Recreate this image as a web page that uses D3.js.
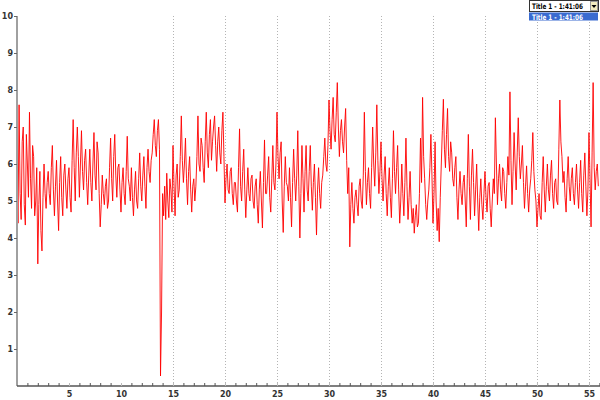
<!DOCTYPE html>
<html><head><meta charset="utf-8">
<script src="https://cdn.jsdelivr.net/npm/d3@7"></script>
<style>
html,body{margin:0;padding:0;background:#fff;}
svg{display:block;}
text{font-family:"DejaVu Sans",Verdana,sans-serif;}
</style></head>
<body>
<svg id="chart" width="600" height="400"></svg>
<script>
const sampleStep = 0.1; // time units between samples
const values = [
5.5,4.4,7.6,5.2,4.5,6.6,7.0,4.9,4.35,6.8,
6.0,5.1,7.4,5.6,4.8,6.5,6.2,4.6,5.0,5.9,
3.3,4.9,5.8,4.2,3.65,5.1,6.0,5.2,4.8,5.5,
5.8,5.2,4.9,5.9,6.5,5.3,4.6,5.4,6.1,5.0,
4.2,5.5,6.2,5.1,4.6,5.7,6.0,5.3,4.8,5.6,
5.9,5.1,4.7,6.1,7.2,5.9,5.0,6.3,7.0,6.2,
5.1,6.0,6.9,5.8,5.3,6.1,6.4,5.5,4.9,5.7,
6.4,5.5,5.0,6.0,6.85,5.7,5.3,6.6,6.3,5.2,
4.3,4.9,5.7,5.2,4.9,5.4,5.6,4.8,5.0,5.9,
6.7,5.6,5.0,6.2,6.8,5.7,5.1,5.9,6.0,5.3,
4.7,5.5,5.9,5.2,4.9,5.8,6.75,5.6,5.4,5.0,
5.9,5.1,4.6,5.3,5.8,5.0,4.8,5.6,6.3,5.4,
5.0,5.7,6.2,5.4,4.8,5.9,6.4,5.8,5.5,6.1,
6.3,6.8,7.2,6.5,6.2,6.9,7.2,6.4,0.27,2.0,
5.2,4.6,5.4,4.5,5.75,5.0,4.55,5.6,5.3,4.7,
6.5,5.4,4.6,5.7,6.0,5.1,5.3,6.2,7.3,6.1,
5.5,6.0,6.7,5.6,4.9,5.8,6.2,5.3,4.7,5.4,
5.6,5.0,5.4,6.2,7.3,6.0,5.8,6.7,6.5,5.9,
5.5,6.6,7.4,6.3,5.9,6.8,7.2,6.1,6.6,7.0,
7.3,6.5,5.8,6.6,7.0,6.3,6.0,6.9,7.4,6.2,
4.95,5.6,6.0,5.3,5.2,5.8,5.9,5.2,4.9,5.5,
5.5,5.0,4.7,5.9,6.95,5.4,5.0,5.8,6.4,5.3,
4.55,5.3,5.9,5.2,5.0,5.6,5.7,5.0,4.8,5.4,
5.6,4.9,4.4,5.3,5.8,5.0,4.27,5.5,6.65,5.2,
5.2,5.7,6.2,5.1,4.7,5.6,6.5,5.5,5.3,6.0,
7.4,6.2,5.6,6.3,6.6,5.0,4.15,5.4,6.2,5.5,
5.4,5.0,5.9,5.1,4.3,5.5,6.4,5.6,5.0,5.7,
6.9,5.4,4.0,5.2,6.5,5.6,4.7,5.8,6.5,5.3,
5.0,5.8,6.5,5.4,4.75,5.5,6.0,5.1,4.08,5.3,
5.9,5.2,4.8,5.5,5.7,6.2,6.7,6.0,5.8,6.5,
7.73,6.9,6.4,7.2,7.8,6.8,6.6,7.4,8.2,7.0,
6.2,6.9,7.2,6.6,6.3,7.0,7.5,6.1,5.2,5.9,
3.76,4.9,5.5,4.8,4.4,5.1,5.3,4.9,4.6,5.4,
5.6,5.0,4.8,5.7,7.4,5.8,4.9,5.5,5.9,5.2,
4.8,5.9,7.0,6.0,5.4,6.3,7.6,6.1,5.2,5.8,
6.6,5.6,5.0,5.7,6.2,5.2,4.6,5.4,5.9,5.1,
4.55,5.6,6.9,5.8,5.2,5.9,6.5,5.3,4.4,5.0,
6.0,5.2,4.6,5.5,6.7,5.4,4.5,5.1,5.8,4.9,
4.4,4.8,4.13,4.6,4.9,4.3,4.4,5.2,6.7,5.5,
7.8,6.2,5.6,4.9,4.5,5.0,5.3,5.9,6.8,5.7,
4.4,5.2,6.6,5.0,4.2,4.8,3.9,5.1,6.0,6.9,
7.75,6.4,5.9,6.8,7.5,6.2,5.8,6.6,6.3,5.6,
5.4,5.9,6.2,5.1,4.5,5.3,5.8,5.2,4.9,5.5,
5.7,5.0,4.3,5.6,6.8,5.4,4.5,5.7,6.4,5.5,
4.6,5.3,6.0,5.0,4.2,5.1,5.6,4.9,4.5,5.2,
5.8,5.1,4.7,5.4,5.5,4.8,4.3,5.0,5.6,5.2,
7.25,6.0,4.9,5.6,6.0,5.3,5.0,5.9,5.8,5.2,
4.8,5.5,6.2,5.7,7.95,6.1,4.9,5.8,6.85,6.0,
5.3,6.3,7.25,6.2,5.6,6.0,6.5,5.5,4.8,5.4,
5.95,5.2,4.7,5.3,5.6,6.1,6.85,5.8,5.3,5.0,
4.3,4.8,5.2,4.6,4.5,5.5,6.2,5.3,4.7,5.4,
6.0,5.3,5.0,5.7,6.1,5.2,4.8,5.5,5.6,5.0,
4.9,6.4,7.73,6.6,6.2,5.5,5.8,5.1,4.7,5.6,
6.2,5.4,5.0,5.6,5.9,5.2,4.9,5.5,6.0,5.3,
4.8,5.5,6.1,5.2,4.7,5.7,6.3,5.4,4.6,5.3,
6.85,5.6,4.3,6.3,8.2,5.9,5.3,5.8,6.0,5.4
];
const xTicks = d3.range(1, 57);
const xLabelTicks = [5,10,15,20,25,30,35,40,45,50,55];
const gridTicks = [15,20,25,30,35,40,45,50,55];
const yTicks = [1,2,3,4,5,6,7,8,9,10];
const selectorLabel = "Title 1 - 1:41:06";

const svg = d3.select("#chart");
const x = d3.scaleLinear().domain([0, 56.06]).range([17, 600]);
const y = d3.scaleLinear().domain([0, 10]).range([386, 16]);

// grid
svg.append("g").selectAll("line").data(gridTicks).join("line")
  .attr("x1", d => Math.round(x(d)) + 0.5).attr("x2", d => Math.round(x(d)) + 0.5)
  .attr("y1", y(10)).attr("y2", y(0))
  .attr("stroke", "#b4b4b4").attr("stroke-width", 1).attr("stroke-dasharray", "1,2");

// data line
const line = d3.line().x((d, i) => x(i * sampleStep)).y(d => y(d));
svg.append("path").datum(values)
  .attr("d", line).attr("fill", "none")
  .attr("stroke", "#ff0000").attr("stroke-width", 1).attr("stroke-opacity", 0.9);

// y axis
const yAxis = svg.append("g").attr("transform", "translate(17,0)")
  .call(d3.axisLeft(y).tickValues(yTicks).tickSize(3).tickPadding(1).tickFormat(d3.format("d")));
yAxis.select(".domain").attr("stroke", "#a0a0a0").attr("stroke-width", 2)
  .attr("d", `M0,${y(10)}V${y(0)}`);
yAxis.selectAll(".tick line").attr("stroke", "#666");
yAxis.selectAll(".tick text").attr("font-size", 8).attr("font-weight", "bold").attr("fill", "#333")
  .attr("font-family", "DejaVu Sans, sans-serif");

// x axis
const xAxis = svg.append("g").attr("transform", "translate(0,386)")
  .call(d3.axisBottom(x).tickValues(xTicks).tickSize(-3).tickPadding(5)
    .tickFormat(d => xLabelTicks.includes(d) ? d : ""));
xAxis.select(".domain").attr("stroke", "#555").attr("stroke-width", 1.5)
  .attr("d", `M17,0H600`);
xAxis.selectAll(".tick line").attr("stroke", d => d % 5 === 0 ? "#bbb" : "#555");
xAxis.selectAll(".tick text").attr("font-size", 8).attr("font-weight", "bold").attr("fill", "#333")
  .attr("font-family", "DejaVu Sans, sans-serif");

// selector widget
const sel = svg.append("g");
sel.append("rect").attr("x", 529.5).attr("y", 0.5).attr("width", 69).attr("height", 11)
  .attr("fill", "#fff").attr("stroke", "#333");
sel.append("text").attr("x", 532).attr("y", 9).attr("font-size", 7.5).attr("font-weight", "bold")
  .attr("font-family", "Liberation Sans, Arial, sans-serif")
  .attr("textLength", 51).attr("lengthAdjust", "spacingAndGlyphs")
  .attr("fill", "#000").text(selectorLabel);
sel.append("rect").attr("x", 590.5).attr("y", 1.5).attr("width", 7).attr("height", 9)
  .attr("fill", "#f2ecc0").attr("stroke", "#999");
sel.append("path").attr("d", "M591.5,5H596.5L594,8Z").attr("fill", "#000");
sel.append("rect").attr("x", 529).attr("y", 12.5).attr("width", 69).attr("height", 8)
  .attr("fill", "#3a6bd0");
sel.append("text").attr("x", 532).attr("y", 19.5).attr("font-size", 7.5).attr("font-weight", "bold")
  .attr("font-family", "Liberation Sans, Arial, sans-serif")
  .attr("textLength", 51).attr("lengthAdjust", "spacingAndGlyphs")
  .attr("fill", "#fff").text(selectorLabel);
</script>
</body></html>
